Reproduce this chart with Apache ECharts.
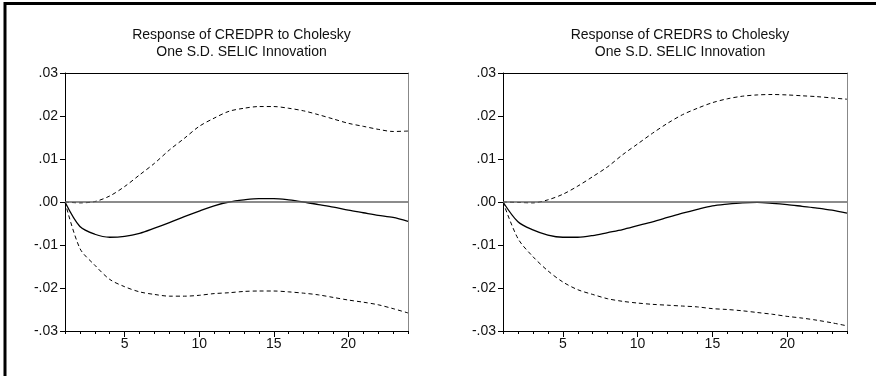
<!DOCTYPE html>
<html>
<head>
<meta charset="utf-8">
<script src="https://cdn.jsdelivr.net/npm/echarts@6/dist/echarts.min.js"></script>
<style>
  html, body { margin: 0; padding: 0; background: #fff; }
  #chart { width: 876px; height: 376px; }
</style>
</head>
<body>
<div id="chart"></div>
<script>
const steps = [1, 2, 3, 4, 5, 6, 7, 8, 9, 10, 11, 12, 13, 14, 15, 16, 17, 18, 19, 20, 21, 22, 23, 24]
const xTickLabels = [5, 10, 15, 20]

const titles = [
  'Response of CREDPR to Cholesky\nOne S.D. SELIC Innovation',
  'Response of CREDRS to Cholesky\nOne S.D. SELIC Innovation',
]

// CREDPR
const credprResp = [0, -0.0057, -0.0075, -0.0082, -0.0080, -0.0073, -0.0061, -0.0048, -0.0034, -0.0021, -0.0009, 0.0000,
  0.0005, 0.0008, 0.0008, 0.0005, 0.0000, -0.0006, -0.0012, -0.0019, -0.0025, -0.0031, -0.0036, -0.0045]
const credprUpper = [0, -0.0002, 0.0001, 0.0014, 0.0036, 0.0063, 0.0090, 0.0121, 0.0148, 0.0176, 0.0195, 0.0211,
  0.0218, 0.0222, 0.0222, 0.0218, 0.0212, 0.0203, 0.0193, 0.0183, 0.0176, 0.0169, 0.0164, 0.0165]
const credprLower = [0, -0.0108, -0.0147, -0.0180, -0.0197, -0.0209, -0.0215, -0.0219, -0.0219, -0.0217, -0.0213, -0.0211,
  -0.0208, -0.0207, -0.0207, -0.0209, -0.0212, -0.0216, -0.0222, -0.0228, -0.0233, -0.0239, -0.0248, -0.0258]

// CREDRS
const credrsResp = [0, -0.0046, -0.0065, -0.0077, -0.0082, -0.0082, -0.0078, -0.0071, -0.0064, -0.0055, -0.0046, -0.0036,
  -0.0026, -0.0017, -0.0009, -0.0005, -0.0002, -0.0001, -0.0003, -0.0006, -0.0010, -0.0014, -0.0019, -0.0026]
const credrsUpper = [0, -0.0001, -0.0002, 0.0005, 0.0018, 0.0037, 0.0059, 0.0082, 0.0110, 0.0135, 0.0160, 0.0183,
  0.0203, 0.0218, 0.0231, 0.0240, 0.0246, 0.0249, 0.0250, 0.0249, 0.0247, 0.0245, 0.0242, 0.0239]
const credrsLower = [0, -0.0085, -0.0127, -0.0160, -0.0186, -0.0204, -0.0215, -0.0225, -0.0231, -0.0235, -0.0238, -0.0240,
  -0.0242, -0.0244, -0.0248, -0.0250, -0.0253, -0.0257, -0.0261, -0.0266, -0.0270, -0.0275, -0.0281, -0.0288]

const panels = [
  { resp: credprResp, upper: credprUpper, lower: credprLower },
  { resp: credrsResp, upper: credrsUpper, lower: credrsLower },
]

const FONT = "'Liberation Sans', Arial, sans-serif"
const grids = [
  { left: 65, right: 468, top: 73, bottom: 45 },
  { left: 503, right: 29, top: 73, bottom: 45 },
]

const pair = (arr) => steps.map((s, i) => [s, arr[i]])
const fmtY = (v) => v.toFixed(2).replace('0.', '.')

const xAxis = []
const yAxis = []
const series = []
const title = []

panels.forEach((p, g) => {
  const gr = grids[g]
  title.push({
    text: titles[g],
    left: gr.left + (876 - gr.left - gr.right) / 2,
    top: 22,
    textAlign: 'center',
    textStyle: { fontFamily: FONT, fontSize: 14, fontWeight: 'normal', color: '#111', lineHeight: 17 },
  })
  const base = { type: 'value', gridIndex: g, min: 1, max: 24, splitLine: { show: false } }
  // bottom axis with labels and long ticks
  xAxis.push({
    ...base,
    position: 'bottom',
    axisLine: { onZero: false, lineStyle: { color: '#000', width: 1 } },
    axisTick: { customValues: xTickLabels, length: 6, lineStyle: { color: '#000' } },
    axisLabel: { customValues: xTickLabels, fontFamily: FONT, fontSize: 14, color: '#111', margin: 6 },
  })
  // minor ticks
  xAxis.push({
    ...base,
    position: 'bottom',
    axisLine: { show: false, onZero: false },
    axisTick: { customValues: steps, length: 3, lineStyle: { color: '#000' } },
    axisLabel: { show: false },
  })
  // top frame
  xAxis.push({
    ...base,
    position: 'top',
    axisLine: { onZero: false, lineStyle: { color: '#000', width: 1 } },
    axisTick: { show: false },
    axisLabel: { show: false },
  })
  yAxis.push({
    type: 'value', gridIndex: g, min: -0.03, max: 0.03, interval: 0.01,
    splitLine: { show: false },
    axisLine: { show: true, onZero: false, lineStyle: { color: '#000', width: 1 } },
    axisTick: { show: true, length: 5, lineStyle: { color: '#000' } },
    axisLabel: { formatter: fmtY, fontFamily: FONT, fontSize: 14, color: '#111', margin: 7 },
  })
  yAxis.push({
    type: 'value', gridIndex: g, min: -0.03, max: 0.03, position: 'right',
    splitLine: { show: false },
    axisLine: { show: true, onZero: false, lineStyle: { color: '#888', width: 1 } },
    axisTick: { show: false },
    axisLabel: { show: false },
  })
  const xi = g * 3
  const yi = g * 2
  series.push({
    type: 'line', xAxisIndex: xi, yAxisIndex: yi, data: pair(p.resp),
    showSymbol: false, symbol: 'none', smooth: 0.3,
    lineStyle: { color: '#000', width: 1.3 },
    z: 3,
    markLine: {
      silent: true, symbol: 'none', label: { show: false },
      lineStyle: { color: '#666', width: 1.5, type: 'solid' },
      data: [{ yAxis: 0 }],
    },
  })
  ;[p.upper, p.lower].forEach((band) => {
    series.push({
      type: 'line', xAxisIndex: xi, yAxisIndex: yi, data: pair(band),
      showSymbol: false, symbol: 'none', smooth: 0.3,
      lineStyle: { color: '#000', width: 1, type: [4, 3] },
      z: 3,
    })
  })
})

const myChart = echarts.init(document.getElementById('chart'), null, { renderer: 'canvas' })
myChart.setOption({
  animation: false,
  backgroundColor: '#fff',
  title,
  grid: grids,
  xAxis,
  yAxis,
  series,
  graphic: [
    {
      type: 'rect',
      shape: { x: 5, y: 3.5, width: 900, height: 400 },
      style: { fill: 'none', stroke: '#000', lineWidth: 3 },
      silent: true,
    },
  ],
})
</script>
</body>
</html>
